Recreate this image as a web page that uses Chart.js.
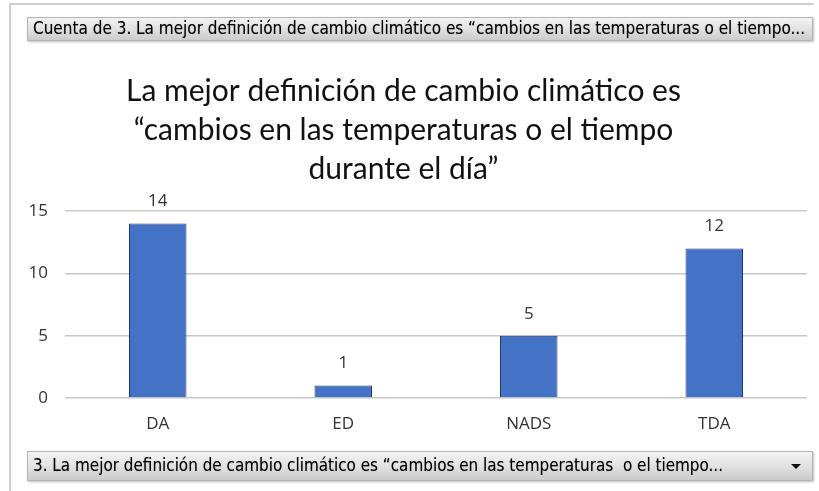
<!DOCTYPE html>
<html>
<head>
<meta charset="utf-8">
<script src="https://cdn.jsdelivr.net/npm/chart.js@4.4.1/dist/chart.umd.min.js"></script>
<style>
html,body{margin:0;padding:0;background:#fff;}
#wrap{width:819px;height:491px;position:relative;}
</style>
</head>
<body>
<div id="wrap"><canvas id="c" width="819" height="491"></canvas></div>
<script>
const categories = ["DA", "ED", "NADS", "TDA"];
const counts = [14, 1, 5, 12];
const yTicks = [0, 5, 10, 15];
const titleLines = ["La mejor definición de cambio climático es", "“cambios en las temperaturas o el tiempo", "durante el día”"];
const topButtonText = "Cuenta de 3. La mejor definición de cambio climático es \u201Ccambios en las temperaturas o el tiempo...";
const bottomButtonText = "3. La mejor definición de cambio climático es \u201Ccambios en las temperaturas  o el tiempo...";

function drawButton(ctx, x, y, w, h, text, textWidth, arrow) {
  const g = ctx.createLinearGradient(0, y, 0, y + h);
  g.addColorStop(0, '#F4F4F4');
  g.addColorStop(0.5, '#E2E2E2');
  g.addColorStop(1, '#C9C9C9');
  ctx.save();
  ctx.shadowColor = 'rgba(0,0,0,0.25)';
  ctx.shadowOffsetX = 1; ctx.shadowOffsetY = 1; ctx.shadowBlur = 2;
  ctx.fillStyle = g;
  ctx.fillRect(x, y, w, h);
  ctx.restore();
  ctx.strokeStyle = '#B5B5B5';
  ctx.lineWidth = 1;
  ctx.strokeRect(x + 0.5, y + 0.5, w - 1, h - 1);
  ctx.save();
  ctx.font = '17px "DejaVu Sans Condensed", "Liberation Sans Narrow", sans-serif';
  ctx.textBaseline = 'middle';
  ctx.fillStyle = '#000';
  ctx.shadowColor = 'rgba(0,0,0,0.35)';
  ctx.shadowBlur = 1;
  const m = ctx.measureText(text).width;
  const sx = textWidth / m;
  ctx.translate(x + 6, y + h / 2 + 1);
  ctx.scale(sx, 1);
  ctx.fillText(text, 0, 0);
  ctx.restore();
  if (arrow) {
    ctx.fillStyle = '#111';
    ctx.beginPath();
    ctx.moveTo(x + w - 22, y + h / 2 - 2);
    ctx.lineTo(x + w - 12, y + h / 2 - 2);
    ctx.lineTo(x + w - 17, y + h / 2 + 3);
    ctx.closePath();
    ctx.fill();
  }
}

const decor = {
  id: 'decor',
  beforeDraw(chart) {
    const ctx = chart.ctx;
    ctx.save();
    ctx.fillStyle = '#fff';
    ctx.fillRect(0, 0, chart.width, chart.height);
    ctx.strokeStyle = '#D0D0D0';
    ctx.lineWidth = 2;
    ctx.beginPath();
    ctx.moveTo(10, 491); ctx.lineTo(10, 4); ctx.lineTo(814, 4);
    ctx.stroke();
    ctx.restore();
  },
  afterDraw(chart) {
    const ctx = chart.ctx;
    ctx.save();
    drawButton(ctx, 27, 17, 786, 24, topButtonText, 772, false);
    drawButton(ctx, 27, 451, 786, 30, bottomButtonText, 690, true);
    const meta = chart.getDatasetMeta(0);
    ctx.font = '17px "Open Sans", sans-serif';
    ctx.fillStyle = '#333';
    ctx.textAlign = 'center';
    ctx.textBaseline = 'middle';
    meta.data.forEach((el, i) => {
      ctx.fillText(String(counts[i]), el.x, el.y - 22);
    });
    ctx.restore();
  }
};

new Chart(document.getElementById('c'), {
  type: 'bar',
  data: {
    labels: categories,
    datasets: [{
      data: counts,
      backgroundColor: '#4472C4',
      borderColor: '#1F3A7A',
      borderWidth: 1,
      barPercentage: 0.31,
      categoryPercentage: 1.0
    }]
  },
  plugins: [decor],
  options: {
    responsive: false,
    animation: false,
    devicePixelRatio: 1,
    layout: { padding: { left: 0, right: 12, top: 0, bottom: 48 } },
    plugins: {
      legend: { display: false },
      tooltip: { enabled: false },
      title: {
        display: true,
        text: titleLines,
        color: '#111',
        font: { family: 'Lato, "Open Sans", sans-serif', size: 30, weight: 'normal', lineHeight: 1.3 },
        padding: { top: 72, bottom: 22 }
      }
    },
    scales: {
      x: {
        grid: { display: false },
        border: { display: false },
        ticks: { color: '#333', font: { family: '"Open Sans", sans-serif', size: 17 }, padding: 8 },
        afterFit(scale) { scale.height = 45; }
      },
      y: {
        min: 0, max: 15,
        afterBuildTicks(scale) { scale.ticks = yTicks.map(v => ({ value: v })); },
        grid: { color: '#C8C8C8', lineWidth: 1.5, drawTicks: false },
        border: { display: false },
        ticks: { color: '#333', font: { family: '"Open Sans", sans-serif', size: 17 }, padding: 17 },
        afterFit(scale) { scale.width = 65; }
      }
    }
  }
});
</script>
</body>
</html>
